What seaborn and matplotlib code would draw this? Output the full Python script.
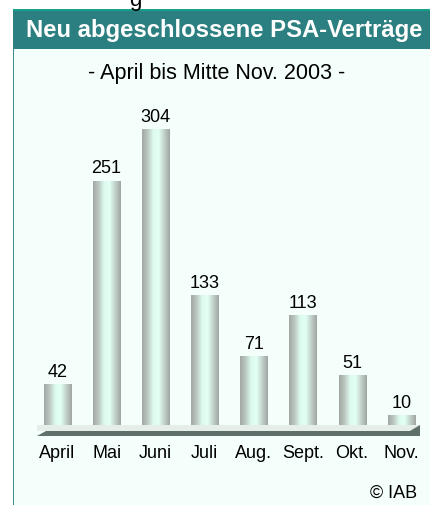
import matplotlib
matplotlib.use("Agg")
import matplotlib.pyplot as plt
import seaborn as sns
import numpy as np
import pandas as pd
from matplotlib.colors import LinearSegmentedColormap
from matplotlib.patches import Rectangle, Polygon

# data
months = ["April", "Mai", "Juni", "Juli", "Aug.", "Sept.", "Okt.", "Nov."]
contracts = [42, 251, 304, 133, 71, 113, 51, 10]

title = "Neu abgeschlossene PSA-Verträge"
subtitle = "- April bis Mitte Nov. 2003 -"
source = "© IAB"

W, H = 430, 506
sns.set_theme(style="white")
plt.rcParams["font.family"] = ["Liberation Sans", "DejaVu Sans"]

fig = plt.figure(figsize=(W / 100, H / 100), dpi=100)
fig.patch.set_facecolor("white")


def fx(x):
    return x / W


def fy(y):
    return 1 - y / H


# panel background, left rule and header bar
fig.patches.append(Rectangle((fx(13), 0), 1 - fx(13), fy(50), transform=fig.transFigure,
                             facecolor="#f4fffc", edgecolor="none", zorder=-3))
fig.patches.append(Rectangle((fx(12.5), 0), fx(2), fy(10), transform=fig.transFigure,
                             facecolor="#3c8f8f", edgecolor="none", zorder=-2))
fig.patches.append(Rectangle((fx(13), fy(50)), 1 - fx(13), fy(10) - fy(50), transform=fig.transFigure,
                             facecolor="#2c7f80", edgecolor="none", zorder=-2))
fig.patches.append(Rectangle((fx(13), fy(11.5)), 1 - fx(13), fy(10) - fy(11.5), transform=fig.transFigure,
                             facecolor="#17a08c", edgecolor="none", zorder=-1))

fig.text(fx(224), fy(30), title, color="white", fontsize=17.2, fontweight="bold",
         ha="center", va="center")
fig.text(fx(217), fy(73), subtitle, color="black", fontsize=15.5, ha="center", va="center")
# descender of a text line cut off above the panel, as in the source
fig.text(fx(135), fy(6), "g", color="black", fontsize=16, ha="center", va="baseline")
fig.text(fx(417), fy(493), source, color="black", fontsize=13, ha="right", va="center")

# floor under the bars
fig.patches.append(Polygon([(fx(37), fy(426)), (fx(420), fy(426)), (fx(420), fy(432)),
                            (fx(37), fy(432))], closed=True, transform=fig.transFigure,
                           facecolor="#e6eeea", edgecolor="none", zorder=-1))
fig.patches.append(Polygon([(fx(37), fy(437)), (fx(46), fy(432)), (fx(410), fy(432)),
                            (fx(420), fy(426)), (fx(420), fy(437))], closed=True,
                           transform=fig.transFigure, facecolor="#5f6f6a", edgecolor="none", zorder=-1))

# axes placed so that category spacing is ~49 px and 1 unit ~0.974 px
step = 49.1
left = 57.5 - step / 2
base = 426
top = base - 350 * 0.974
ax = fig.add_axes([fx(left), fy(base), fx(8 * step), (base - top) / H])
ax.set_facecolor("none")
ax.patch.set_alpha(0)
ax.set_zorder(5)

df = pd.DataFrame({"month": months, "value": contracts})
sns.barplot(data=df, x="month", y="value", order=months, width=0.55,
            color="#c8d8d0", saturation=1, ax=ax)
ax.set_xlim(-0.5, 7.5)
ax.set_ylim(0, 350)

cmap = LinearSegmentedColormap.from_list(
    "cyl", ["#a3a8a4", "#bcc9c2", "#dcfbee", "#e2fff4", "#c2d2ca", "#a0a6a2"])
grad = np.linspace(0, 1, 64).reshape(1, -1)
for bar in list(ax.patches):
    x0, y0 = bar.get_x(), bar.get_y()
    w, h = bar.get_width(), bar.get_height()
    bar.set_facecolor("none")
    bar.set_edgecolor("none")
    im = ax.imshow(grad, cmap=cmap, aspect="auto", extent=[x0, x0 + w, y0, y0 + h],
                   zorder=3, interpolation="bilinear")
    im.set_clip_path(bar)
    ax.annotate(f"{int(h)}", (x0 + w / 2, h), xytext=(0, 3), textcoords="offset points",
                ha="center", va="bottom", fontsize=13, color="black")

ax.set_xlim(-0.5, 7.5)
ax.set_ylim(0, 350)
ax.set_xlabel("")
ax.set_ylabel("")
ax.set_yticks([])
ax.tick_params(axis="x", length=0, pad=14, labelsize=13, colors="black")
for s in ax.spines.values():
    s.set_visible(False)

fig.savefig("out.png", dpi=100)
